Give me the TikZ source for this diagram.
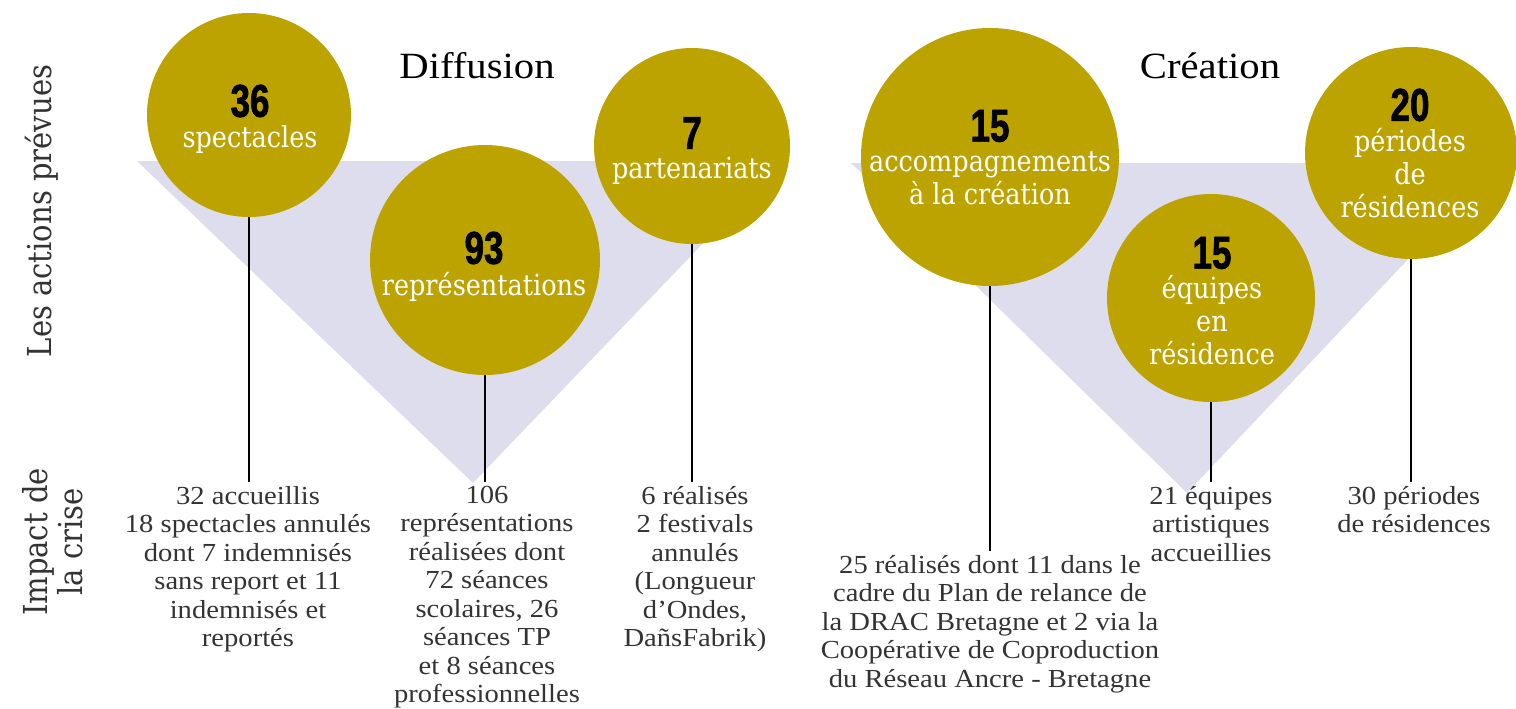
\documentclass[tikz,border=0pt]{standalone}
\usepackage{fontspec}
\setmainfont{Liberation Serif}
\newfontfamily\bodyfam[FakeStretch=1.1]{Liberation Serif}
\newfontfamily\slabfam[FakeStretch=0.88]{DejaVu Serif}
\newfontfamily\numfam[FakeStretch=0.76,BoldFeatures={FakeBold=1.5}]{Liberation Sans}
\definecolor{gold}{RGB}{188,163,0}
\definecolor{lav}{RGB}{222,221,237}
\definecolor{ink}{RGB}{51,51,51}
\begin{document}
\begin{tikzpicture}[x=1pt,y=-1pt,
  bubble/.style={circle,fill=gold,draw=none,inner sep=0pt,minimum size=#1},
  numtxt/.style={font=\numfam\bfseries\fontsize{46}{50}\selectfont,text=black,inner sep=0pt},
  lbltxt/.style={font=\slabfam\fontsize{29}{33}\selectfont,text=white,align=center,inner sep=0pt},
  impact/.style={font=\bodyfam\fontsize{26}{28.5}\selectfont,text=ink,align=center,inner sep=0pt,anchor=north},
  heading/.style={font=\bodyfam\fontsize{37}{42}\selectfont,text=black,inner sep=0pt},
  sidetxt/.style={font=\slabfam\fontsize{33}{36}\selectfont,text=ink,inner sep=0pt,rotate=90,anchor=base},
  stem/.style={line width=2.7pt,black},
  funnel/.style={fill=lav,draw=none}]
\useasboundingbox (0,0) rectangle (1516,709);

% funnels
\fill[funnel] (137,161) -- (782,161) -- (473,483) -- cycle;
\fill[funnel] (851,163) -- (1499,163) -- (1187,493) -- cycle;

% headings and side labels
\node[heading] (tdiff) at (477,66) {Diffusion};
\node[heading] (tcrea) at (1210,66) {Création};
\node[sidetxt] (sideA) at (51,211) {Les actions prévues};
\node[sidetxt] (sideB1) at (47,542) {Impact de};
\node[sidetxt] (sideB2) at (82,542) {la crise};

% bottom texts
\node[impact] (b1) at (248,486) {32 accueillis\\18 spectacles annulés\\dont 7 indemnisés\\sans report et 11\\indemnisés et\\reportés};
\node[impact] (b2) at (487,486) {106\\représentations\\réalisées dont\\72 séances\\scolaires, 26\\séances TP\\et 8 séances\\professionnelles};
\node[impact] (b3) at (695,486) {6 réalisés\\2 festivals\\annulés\\(Longueur\\d’Ondes,\\DañsFabrik)};
\node[impact] (b4) at (990,555) {25 réalisés dont 11 dans le\\cadre du Plan de relance de\\la DRAC Bretagne et 2 via la\\Coopérative de Coproduction\\du Réseau Ancre - Bretagne};
\node[impact] (b5) at (1211,486) {21 équipes\\artistiques\\accueillies};
\node[impact] (b6) at (1414,486) {30 périodes\\de résidences};

% bubbles
\node[bubble=204pt] (c1) at (249,115) {};
\node[bubble=230pt] (c2) at (485,260) {};
\node[bubble=196pt] (c3) at (692,146) {};
\node[bubble=258pt] (c4) at (990,157) {};
\node[bubble=208pt] (c5) at (1211,298) {};
\node[bubble=212pt] (c6) at (1411,153) {};

% stems
\draw[stem,shorten >=4pt] (c1.south) -- (c1.south |- b1.north);
\draw[stem,shorten >=4pt] (c2.south) -- (c2.south |- b2.north);
\draw[stem,shorten >=4pt] (c3.south) -- (c3.south |- b3.north);
\draw[stem,shorten >=4pt] (c4.south) -- (c4.south |- b4.north);
\draw[stem,shorten >=4pt] (c5.south) -- (c5.south |- b5.north);
\draw[stem,shorten >=4pt] (c6.south) -- (c6.south |- b6.north);

% bubble texts
\node[numtxt] (n1) at (250,101) {36};
\node[lbltxt] (l1) at (250,139.5) {spectacles};
\node[numtxt] (n2) at (484,248) {93};
\node[lbltxt] (l2) at (484,287) {représentations};
\node[numtxt] (n3) at (692,133) {7};
\node[lbltxt] (l3) at (692,171) {partenariats};
\node[numtxt] (n4) at (990,126) {15};
\node[lbltxt] (l4) at (990,178) {accompagnements\\à la création};
\node[numtxt] (n5) at (1212,253) {15};
\node[lbltxt] (l5) at (1212,320) {équipes\\en\\résidence};
\node[numtxt] (n6) at (1410,105) {20};
\node[lbltxt] (l6) at (1410,173) {périodes\\de\\résidences};
\end{tikzpicture}
\end{document}
